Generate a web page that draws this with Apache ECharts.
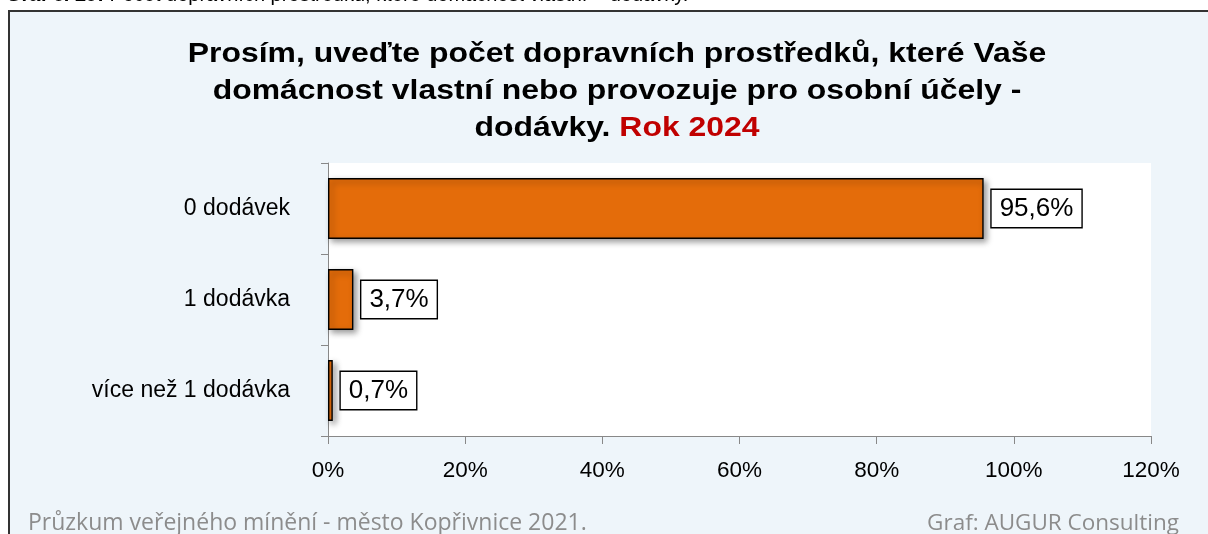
<!DOCTYPE html>
<html>
<head>
<meta charset="utf-8">
<script src="https://cdn.jsdelivr.net/npm/echarts@6/dist/echarts.min.js"></script>
<style>
  html, body { margin: 0; padding: 0; background: #fff; }
  #chart { width: 1208px; height: 534px; }
</style>
</head>
<body>
<div id="chart"></div>
<script>
// kategorie (odshora dolů) a hodnoty v %
const categories = ['0 dodávek', '1 dodávka', 'více než 1 dodávka']
const values = [95.6, 3.7, 0.7]
const xTicks = [0, 20, 40, 60, 80, 100, 120]

const chart = echarts.init(document.getElementById('chart'))

const fmtPct = v => String(v).replace('.', ',') + '%'

const option = {
  animation: false,
  backgroundColor: '#fff',
  graphic: [
    { // rámeček grafu
      type: 'rect',
      z: -10,
      shape: { x: 9, y: 11, width: 1220, height: 540 },
      style: { fill: '#EEF5FA', stroke: '#333', lineWidth: 2 }
    },
    { // uříznutý popisek nad grafem
      type: 'text',
      x: 6,
      y: 5,
      style: {
        text: '{b|Graf č. 29:} Počet dopravních prostředků, které domácnost vlastní – dodávky.',
        verticalAlign: 'bottom',
        fontFamily: 'Arial',
        fontSize: 20,
        fill: '#000',
        rich: { b: { fontWeight: 'bold', fontSize: 20, fontFamily: 'Arial' } }
      }
    },
    { // nadpis (v originále vodorovně roztažený)
      type: 'text',
      x: 617,
      y: 36,
      scaleX: 1.14,
      style: {
        text: 'Prosím, uveďte počet dopravních prostředků, které Vaše\ndomácnost vlastní nebo provozuje pro osobní účely -\ndodávky. {red|Rok 2024}',
        align: 'center',
        verticalAlign: 'top',
        fontFamily: 'Arial',
        fontWeight: 'bold',
        fontSize: 28,
        lineHeight: 37,
        fill: '#000',
        rich: {
          red: { fill: '#C00000', fontFamily: 'Arial', fontWeight: 'bold', fontSize: 28, lineHeight: 37 }
        }
      }
    },
    {
      type: 'text',
      left: 28,
      top: 512,
      style: {
        text: 'Průzkum veřejného mínění - město Kopřivnice 2021.',
        fontFamily: 'Open Sans',
        fontSize: 23,
        fill: '#8c8c8c'
      }
    },
    {
      type: 'text',
      right: 29,
      top: 512,
      style: {
        text: 'Graf: AUGUR Consulting',
        fontFamily: 'Open Sans',
        fontSize: 22.5,
        fill: '#8c8c8c'
      }
    }
  ],
  grid: {
    left: 328,
    right: 57,
    top: 163,
    bottom: 98,
    show: true,
    backgroundColor: '#fff',
    borderWidth: 0
  },
  xAxis: {
    type: 'value',
    min: xTicks[0],
    max: xTicks[xTicks.length - 1],
    interval: 20,
    axisLine: { show: true, lineStyle: { color: '#888', width: 1 } },
    axisTick: { show: true, length: 8, lineStyle: { color: '#888' } },
    splitLine: { show: false },
    axisLabel: {
      margin: 23,
      fontFamily: 'Arial',
      fontSize: 22.5,
      color: '#000',
      formatter: v => v + '%'
    }
  },
  yAxis: {
    type: 'category',
    data: categories,
    inverse: true,
    axisLine: { show: true, lineStyle: { color: '#888', width: 1 } },
    axisTick: { show: true, length: 7, lineStyle: { color: '#888' } },
    axisLabel: {
      margin: 38,
      fontFamily: 'Arial',
      fontSize: 23,
      color: '#000'
    }
  },
  series: [
    {
      type: 'bar',
      data: values,
      barWidth: 61,
      itemStyle: {
        color: '#E46C0A',
        borderColor: '#000',
        borderWidth: 1.4,
        shadowBlur: 6,
        shadowOffsetX: 3,
        shadowOffsetY: 3,
        shadowColor: 'rgba(0,0,0,0.4)'
      },
      label: {
        show: true,
        position: 'right',
        distance: 8,
        formatter: p => fmtPct(p.value),
        fontFamily: 'Arial',
        fontSize: 26,
        color: '#000',
        backgroundColor: '#fff',
        borderColor: '#000',
        borderWidth: 1.4,
        padding: [6, 8, 5, 8]
      }
    }
  ]
}

chart.setOption(option)
</script>
</body>
</html>
